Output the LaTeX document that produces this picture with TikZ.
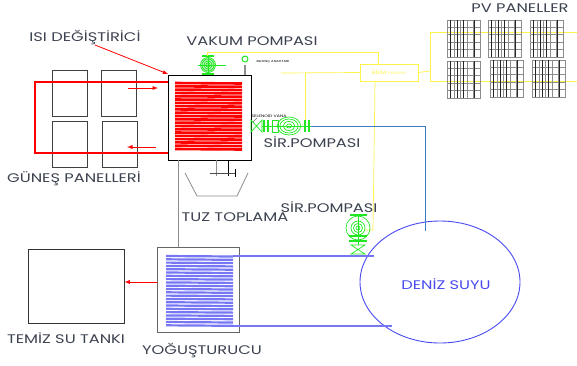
\documentclass[tikz,border=0pt]{standalone}
\usepackage{fontspec}
\setmainfont[FakeStretch=1.3]{Poppins}
\usetikzlibrary{shapes.geometric}
\definecolor{labelgray}{HTML}{3C4250}
\definecolor{pumpgreen}{HTML}{22E622}
\definecolor{wireyellow}{HTML}{FFF34A}
\definecolor{seablue}{HTML}{4A4AF0}
\definecolor{pipeblue}{HTML}{3A7CC8}
\tikzset{
  lbl/.style={font=\fontsize{12.5}{14}\selectfont, text=labelgray, inner sep=0pt},
  tiny/.style={font=\fontsize{3.6}{4}\selectfont, text=black, inner sep=0pt},
  panelbox/.style={draw=black!75, line width=0.9pt, minimum width=35pt, minimum height=46pt, inner sep=0pt},
  wire/.style={wireyellow, line width=0.7pt},
  redpipe/.style={red, line width=1.2pt},
  seapipe/.style={seablue!75, line width=1.1pt},
  redarrow/.style={red, line width=0.9pt, -latex},
  pumpline/.style={pumpgreen, line width=0.7pt},
  flange/.style={pumpgreen, line width=1.5pt}
}
\begin{document}
\begin{tikzpicture}[x=1pt, y=-1pt]
  \useasboundingbox (0,0) rectangle (577,365);
  % solar side
  \node[panelbox] (panelA) at (69.5,93) {};
  \node[panelbox] (panelB) at (118.5,93) {};
  \node[panelbox] (panelC) at (69.5,144) {};
  \node[panelbox] (panelD) at (119.5,144) {};
  \node[lbl] (solar) at (74,179) {GÜNEŞ PANELLERİ};
  \node[lbl] (isi) at (85,38) {ISI DEĞİŞTİRİCİ};
  \foreach \y in {83,86.3,...,152} {
    \draw[red, line width=2.6pt] (175,\y) -- (242,\y+0.5);
  }
  \node[draw=black, line width=0.9pt, minimum width=83pt, minimum height=85pt, inner sep=0pt] (exch) at (209.5,117.5) {};
  \draw[redpipe] (exch.west |- 0,82) -- (35,82) -- (35,153) -- (exch.west |- 0,153);
  \coordinate (isiend) at (168,74);
  \draw[red, line width=0.8pt, -latex] (95,45) -- (isiend);
  \draw[redarrow] (128,88) -- (158,88);
  \draw[redarrow] (156,147) -- (127,147);
  % vacuum pump
  \node[lbl] (vakum) at (252,41) {VAKUM POMPASI};
  \draw[pumpline, fill=pumpgreen!35] (208,65) circle (7.5);
  \foreach \r in {2,4,6} { \draw[pumpline] (208,65) circle (\r); }
  \draw[flange] (202,56) -- (214,56);
  \draw[flange] (202,74) -- (214,74);
  \draw[pumpline] (208,56) -- (208,74);
  \draw[pumpline] (198,65) -- (226,65);
  % pressure switch
  \draw[black!45, line width=1.4pt] (245,65) -- (245,75);
  \draw[pumpgreen, line width=1pt] (245,59) circle (3);
  \node[tiny, font=\fontsize{2.9}{4}\selectfont] (basinc) at (273,62) {BASINÇ ANAHTARI};
  % yellow wiring
  \node[draw=wireyellow, line width=1pt, minimum width=58pt, minimum height=17pt, inner sep=0pt, text=wireyellow, font=\fontsize{5}{6}\selectfont] (pano) at (389,72.5) {BİEM \fontsize{3.5}{4}\selectfont PANOSU};
  \draw[wire] (207,56) -- (207,52) -- (378,52) -- (pano.north -| 378,0);
  \draw[wire] (281,73) -- (pano.west);
  \draw[wire] (305,73) -- (305,124);
  \draw[wire] (pano.south -| 375,0) -- (373,230) -- (365,230);
  \draw[wire] (pano.east) -- (430,71);
  \draw[wire] (577,32) -- (430,32) -- (430,81) -- (577,81);
  % pv panels
  \node[lbl] (pv) at (520,8) {PV PANELLER};
  \foreach \x/\y in {447/20, 488/20, 530/20, 447/61, 490/60, 532/60} {
    \draw[black!45, line width=0.8pt] (\x,\y) rectangle (\x+33,\y+37);
    \foreach \i in {7,13,20,26} { \draw[black!45, line width=0.5pt] (\x+\i,\y) -- (\x+\i,\y+37); }
    \foreach \j in {7,14,22,29} { \draw[black!45, line width=0.5pt] (\x,\y+\j) -- (\x+33,\y+\j); }
    \foreach \i in {3,10,16,27} { \draw[black!85, line width=0.9pt] (\x+\i,\y) -- (\x+\i,\y+37); }
  }
  % circulation pump
  \node[lbl] (sirA) at (312,142) {SİR.POMPASI};
  \foreach \r in {2,4.5,7,9} { \draw[pumpline] (289,126) ellipse ({\r*1.3} and \r); }
  \draw[pumpline] (251,120) -- (262,132) -- (262,120) -- (251,132) -- cycle;
  \draw[flange] (264,120) -- (264,132);
  \draw[flange] (268,120) -- (268,132);
  \draw[pumpline] (272,120) rectangle (278,132);
  \draw[flange] (305,120) -- (305,132);
  \draw[flange] (309,120) -- (309,132);
  \draw[pumpline] (262,126) -- (311,126);
  \node[tiny] (solenoid) at (269,116) {SELENOİD VANA};
  \draw[black, line width=0.3pt] (253,122) -- (257,118);
  % sea water
  \node[ellipse, draw=seablue, line width=0.9pt, minimum width=160pt, minimum height=122pt, inner sep=0pt] (sea) at (440,282) {};
  \node[lbl, text=seablue] (seatext) at (446,284) {DENİZ SUYU};
  \draw[pipeblue, line width=0.7pt] (311,126) -- (425,126) -- (425,231);
  % salt collector
  \draw[black!45, line width=0.9pt] (178,160) -- (178,247);
  \draw[black!45, line width=0.8pt] (185,173) -- (197,196) -- (237,196) -- (248,173);
  \draw[black!45, line width=0.8pt] (216,160) -- (216,176);
  \draw[black, line width=0.8pt] (228,160) -- (228,176);
  \draw[black!70, line width=0.8pt] (210,173) -- (235,173);
  \draw[black, line width=0.8pt] (235,169) -- (235,177);
  \node[lbl] (tuz) at (235,217) {TUZ TOPLAMA};
  % condenser
  \foreach \y in {256,259.3,...,326} {
    \draw[seablue!75, line width=2.2pt] (166,\y) -- (233,\y+0.5);
  }
  \node[draw=black!60, line width=0.8pt, minimum width=82pt, minimum height=85pt, inner sep=0pt] (cond) at (198,289.5) {};
  \draw[seapipe] (233,256) -- (374,256);
  \draw[seapipe] (233,326) -- (392,326);
  \node[lbl] (yogus) at (202,351) {YOĞUŞTURUCU};
  \node[lbl] (sirB) at (329,207) {SİR.POMPASI};
  \foreach \r in {2,4.5,7,12} { \draw[pumpline] (358,228) circle (\r); }
  \draw[flange] (350,215) -- (367,215);
  \draw[pumpline] (358,215) -- (358,245);
  \draw[flange] (349,236) -- (367,236);
  \draw[flange] (349,241) -- (367,241);
  \draw[pumpline] (351,245) -- (365,254) -- (351,254) -- (365,245) -- cycle;
  % clean water
  \node[draw=black!80, line width=0.9pt, minimum width=96pt, minimum height=74pt, inner sep=0pt] (tank) at (76,286) {};
  \node[lbl] (temiz) at (66,338) {TEMİZ SU TANKI};
  \draw[redarrow] (cond.west |- 0,282) -- (tank.east |- 0,282);
\end{tikzpicture}
\end{document}
